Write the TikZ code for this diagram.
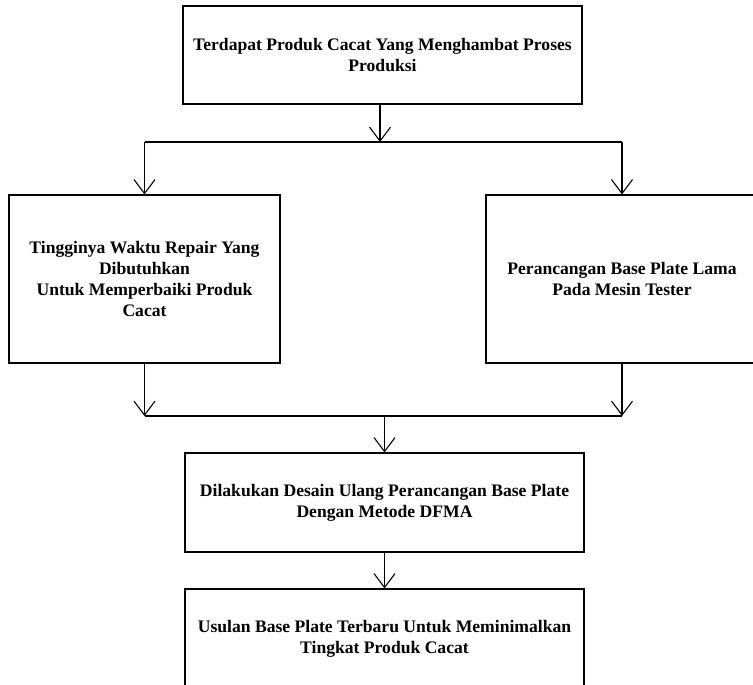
\documentclass[tikz,border=0pt]{standalone}
\usepackage{fontspec}
\setmainfont{Liberation Serif}
\usetikzlibrary{arrows.meta}
\begin{document}
\begin{tikzpicture}[x=1pt,y=-1pt,
  box/.style={draw, line width=1.1pt, align=center, inner sep=0pt,
    font=\fontsize{17.6}{21}\selectfont\bfseries},
  line/.style={line width=1.1pt},
  arr/.style={line width=1.1pt, -{Straight Barb[length=14pt,width=21pt]}}]
\useasboundingbox (0,0) rectangle (753,685);
\clip (0,0) rectangle (753,685);
\node[box, minimum width=399pt, minimum height=98pt] (top) at (382.5,55)
  {Terdapat Produk Cacat Yang Menghambat Proses\\Produksi};
\node[box, minimum width=271pt, minimum height=168pt] (left) at (144.5,279)
  {Tingginya Waktu Repair Yang\\Dibutuhkan\\Untuk Memperbaiki Produk\\Cacat};
\node[box, minimum width=272pt, minimum height=168pt] (right) at (622,279)
  {Perancangan Base Plate Lama\\Pada Mesin Tester};
\node[box, minimum width=399pt, minimum height=99pt] (mid) at (384.5,502.5)
  {Dilakukan Desain Ulang Perancangan Base Plate\\Dengan Metode DFMA};
\node[box, minimum width=399pt, minimum height=100pt] (bot) at (384.5,639)
  {Usulan Base Plate Terbaru Untuk Meminimalkan\\Tingkat Produk Cacat};
\coordinate (j1) at (380,142);
\coordinate (j2) at (384,416);
\draw[arr] (j1 |- top.south) -- (j1);
\draw[line] (left.north |- j1) -- (right.north |- j1);
\draw[arr] (left.north |- j1) -- (left.north);
\draw[arr] (right.north |- j1) -- (right.north);
\draw[arr] (left.south) -- (left.south |- j2);
\draw[arr] (right.south) -- (right.south |- j2);
\draw[line] (left.south |- j2) -- (right.south |- j2);
\draw[arr] (mid.north |- j2) -- (mid.north);
\draw[arr] (mid.south) -- (bot.north);
\end{tikzpicture}
\end{document}
